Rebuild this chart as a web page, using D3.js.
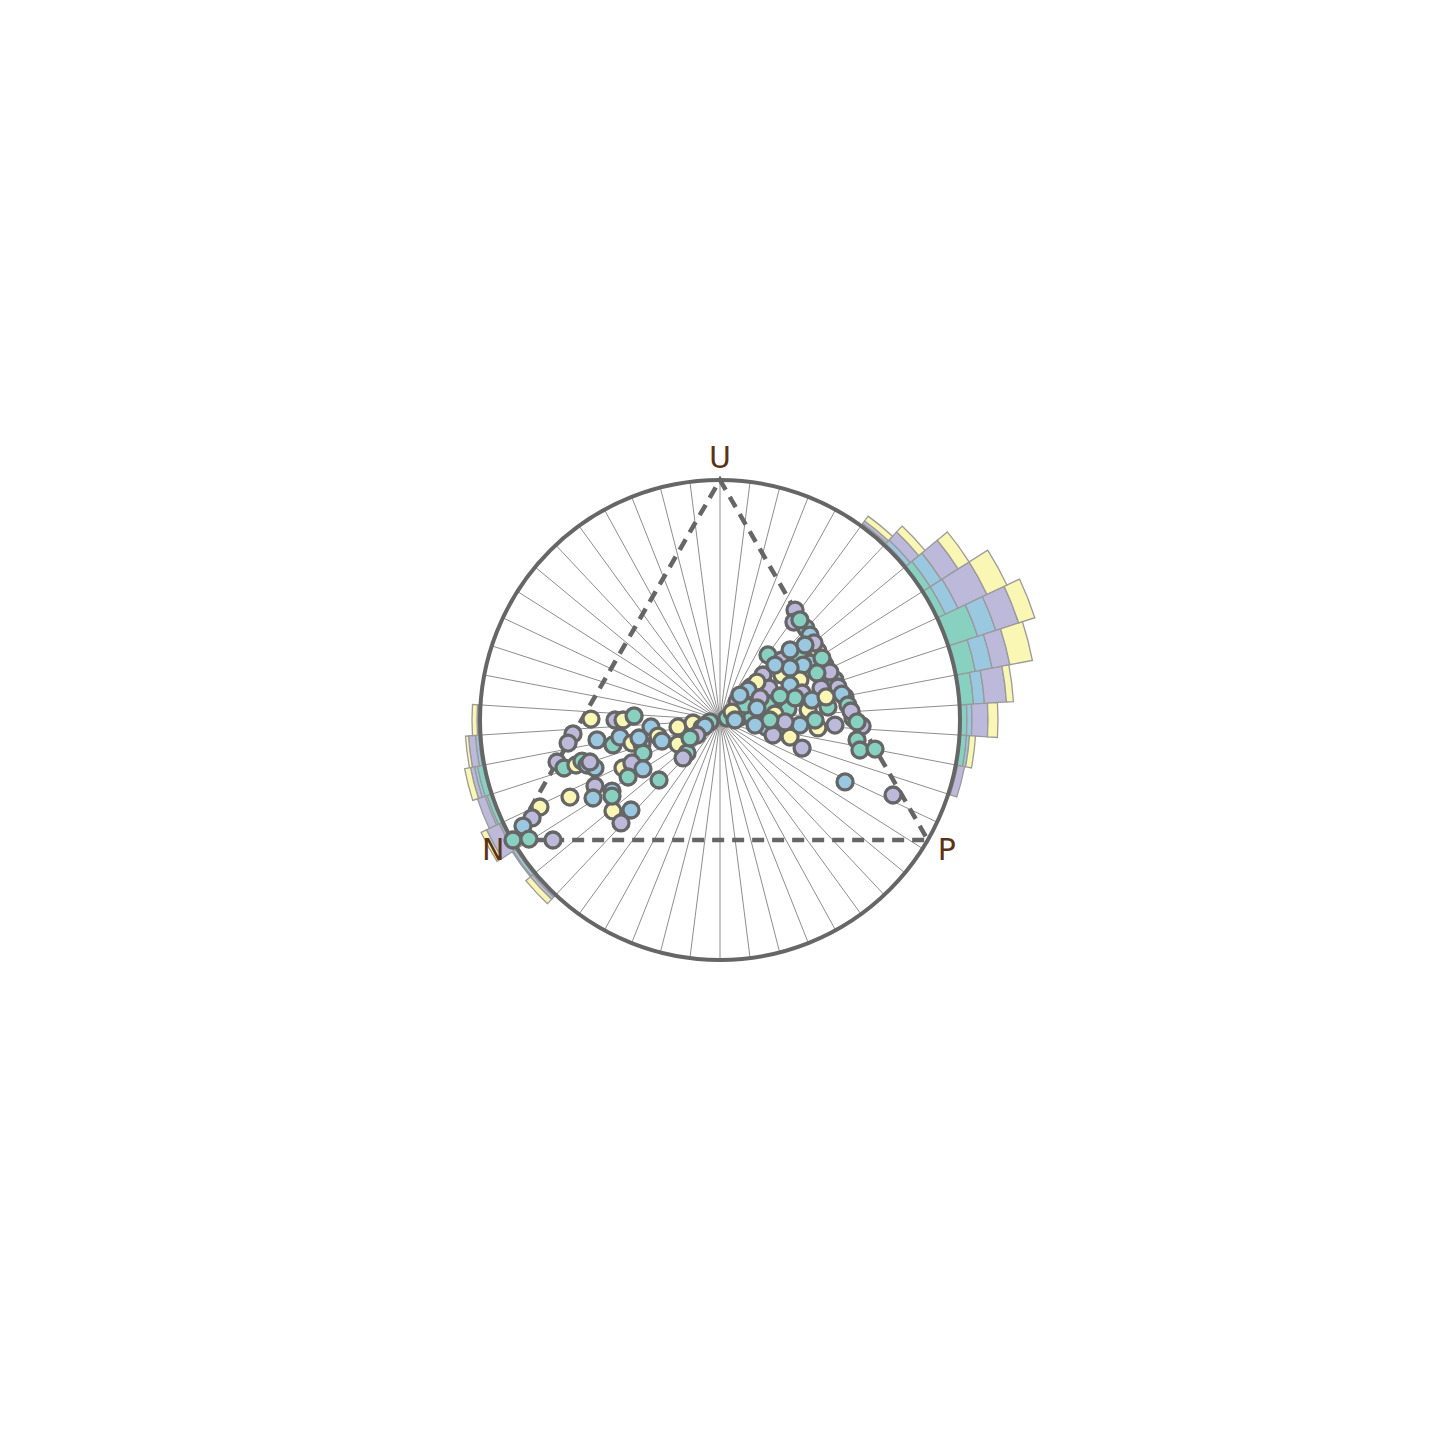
<!DOCTYPE html>
<html><head><meta charset="utf-8">
<script src="https://cdn.jsdelivr.net/npm/d3@7"></script>
<style>html,body{margin:0;background:#fff}</style>
</head><body><svg id="c" width="1440" height="1440"></svg>
<script>
// ---------- data ----------
const seriesNames = ["S1", "S2", "S3", "S4"];
const seriesColors = ["#88d0c0", "#99c8e0", "#bdb9db", "#faf6b4"];
const vertexLabels = ["U", "N", "P"];
const vertexAngles = [90, 210, 330];          // degrees, counter-clockwise from +x
const binWidth = 7.2;                          // degrees
const gridAngles = d3.range(3.6, 360, 7.2);    // radial grid lines (bin edges)

// radial histogram: bin centre angles and stacked counts per series
const binCenters = [0, 7.2, 14.4, 21.6, 28.8, 36, 43.2, 50.4, 345.6, 352.8, 180, 187.2, 194.4, 201.6, 208.8, 216, 223.2];
const histS1 = [3.5, 7, 10, 15.5, 4.5, 4.5, 1, 0.5, 0.5, 3.5, 0.5, 1, 3.5, 2.5, 1, 1, 0.5];
const histS2 = [2.5, 5.5, 8.5, 9.5, 7, 6.5, 2.5, 1, 0.5, 1.5, 0.5, 1.5, 1.5, 1, 1, 1.5, 1];
const histS3 = [8, 11, 9, 12, 16, 10, 5.5, 1.5, 3.5, 0, 0.5, 3.5, 2, 4, 7, 0.5, 1.5];
const histS4 = [5, 3.5, 11.5, 8.5, 11, 6.5, 4, 3, 0, 3, 2.5, 1.5, 3, 0, 3, 0, 3];

// scatter points (unit-disc coordinates) and their series index
const ptX = [-0.5375,-0.4375,-0.404,-0.358,-0.6125,-0.633,-0.5125,-0.446,-0.417,-0.367,-0.325,-0.321,-0.2875,-0.258,-0.242,-0.175,-0.175,-0.1375,-0.154,-0.1125,-0.075,-0.042,-0.679,-0.65,-0.6,-0.575,-0.554,-0.521,-0.404,-0.367,-0.321,-0.383,-0.254,-0.625,-0.521,-0.529,-0.45,-0.446,-0.371,-0.4125,-0.75,-0.783,-0.821,-0.8625,-0.796,-0.696,-0.3375,-0.45,-0.542,-0.0625,-0.096,-0.125,
 0.3125,0.308,0.358,0.375,0.408,0.2,0.258,0.333,0.375,0.4375,0.346,0.258,0.179,0.333,0.479,0.421,0.292,0.342,0.204,0.129,0.071,0.2,0.283,0.367,0.45,0.521,0.229,0.083,0.029,0.133,0.192,0.292,0.342,0.408,0.479,0.554,0.592,0.571,0.583,0.646,0.521,0.721,0.221,
 0.392,0.425,0.458,0.492,0.508,0.533,0.546,0.571,0.333,0.404,0.292,0.229,0.154,0.117,0.104,0.05,0.167,0.3125,0.383,0.25,0.442,0.396,0.333,0.271,0.208,0.154,0.083,0.0625,0.146,0.292,0.354];
const ptY = [0.004,0,0,0.017,-0.058,-0.096,-0.083,-0.104,-0.071,-0.096,-0.1,-0.1375,-0.029,-0.067,-0.0875,-0.029,-0.1,-0.1375,-0.158,-0.0125,-0.033,-0.008,-0.175,-0.2,-0.1875,-0.171,-0.1875,-0.2,-0.2,-0.179,-0.204,-0.2375,-0.25,-0.321,-0.275,-0.325,-0.296,-0.379,-0.375,-0.429,-0.3625,-0.408,-0.442,-0.5,-0.496,-0.5,-0.075,-0.317,-0.175,-0.025,-0.0625,-0.075,
 0.458,0.408,0.383,0.354,0.2875,0.271,0.25,0.2625,0.2375,0.229,0.229,0.1875,0.1875,0.167,0.167,0.133,0.146,0.1125,0.133,0.1375,0.075,0.0625,0.046,0.042,0.054,0.096,0.025,0.0125,0.008,0.0125,-0.029,-0.071,-0.117,-0.033,-0.021,0.008,-0.025,-0.083,-0.125,-0.121,-0.258,-0.3125,-0.0625,
 0.321,0.258,0.2,0.1375,0.108,0.0625,0.0375,-0.008,0.417,0.196,0.217,0.229,0.158,0.125,0.0625,0.033,0.092,0.092,0.083,0.1,0.096,0,-0.021,-0.008,0,0.05,0.104,0,-0.021,0.292,0.3125];
const ptS = [3,2,3,0,2,2,1,0,1,3,1,0,1,3,1,3,3,0,2,3,0,0,2,0,3,0,1,1,3,2,1,0,0,3,2,1,1,3,1,2,3,2,1,0,0,2,1,0,2,1,2,0,
 2,2,0,1,3,0,2,0,1,0,1,3,2,3,1,2,1,2,2,1,2,0,0,3,0,2,3,3,0,0,1,3,2,3,2,0,2,0,0,0,1,2,2,
 2,0,2,2,1,0,2,0,0,0,1,1,3,1,0,3,2,0,1,0,3,0,1,2,0,1,1,1,1,1,1];

// ---------- layout ----------
const cx = 720, cy = 720, R = 240;
const svg = d3.select("#c");
const g = svg.append("g").attr("transform", `translate(${cx},${cy})`);

const xS = d3.scaleLinear().domain([-1, 1]).range([-R, R]);
const yS = d3.scaleLinear().domain([-1, 1]).range([R, -R]);
const angS = d3.scaleLinear().domain([0, 360]).range([0, 2 * Math.PI]);
const lenS = d3.scaleLinear().domain([0, 50]).range([0, 100]);

// radial grid lines
g.selectAll("line.grid").data(gridAngles).join("line")
  .attr("x1", 0).attr("y1", 0)
  .attr("x2", d => R * Math.cos(angS(d)))
  .attr("y2", d => -R * Math.sin(angS(d)))
  .attr("stroke", "#8e8e8e").attr("stroke-width", 1);

// stacked radial histogram
const rows = binCenters.map((a, i) => ({ angle: a, S1: histS1[i], S2: histS2[i], S3: histS3[i], S4: histS4[i] }));
const stacked = d3.stack().keys(seriesNames)(rows);
const arc = d3.arc();
stacked.forEach((layer, si) => {
  g.append("g").selectAll("path").data(layer).join("path")
    .attr("d", d => {
      const a = d.data.angle;
      return arc({
        innerRadius: R + lenS(d[0]),
        outerRadius: R + lenS(d[1]),
        startAngle: Math.PI / 2 - angS(a + binWidth / 2),
        endAngle: Math.PI / 2 - angS(a - binWidth / 2)
      });
    })
    .attr("fill", seriesColors[si])
    .attr("stroke", d => (d[1] - d[0]) > 0 ? "#9a9a9a" : "none")
    .attr("stroke-width", 1.3);
});

// outer circle
g.append("circle").attr("r", R).attr("fill", "none").attr("stroke", "#666").attr("stroke-width", 4);

// ternary triangle (N -> P -> U -> N)
const vtx = vertexAngles.map(a => [R * Math.cos(angS(a)), -R * Math.sin(angS(a))]);
const triOrder = [1, 2, 0];
g.append("path")
  .attr("d", d3.line()(triOrder.map(i => vtx[i])) + "Z")
  .attr("fill", "none").attr("stroke", "#666").attr("stroke-width", 4.5)
  .attr("stroke-dasharray", "12,8");

// scatter points
g.append("g").selectAll("circle").data(ptX.map((x, i) => ({ x, y: ptY[i], s: ptS[i] }))).join("circle")
  .attr("cx", d => xS(d.x)).attr("cy", d => yS(d.y)).attr("r", 8)
  .attr("fill", d => seriesColors[d.s])
  .attr("stroke", "#666").attr("stroke-width", 3.3);

// vertex labels
const labelOffsets = [[0, -12], [-19, 20], [19, 20]];
g.selectAll("text.vl").data(vertexLabels).join("text")
  .attr("x", (d, i) => vtx[i][0] + labelOffsets[i][0])
  .attr("y", (d, i) => vtx[i][1] + labelOffsets[i][1])
  .attr("text-anchor", "middle")
  .attr("font-family", "DejaVu Sans, sans-serif").attr("font-size", 30)
  .attr("fill", "#5b3216")
  .text(d => d);
</script></body></html>
